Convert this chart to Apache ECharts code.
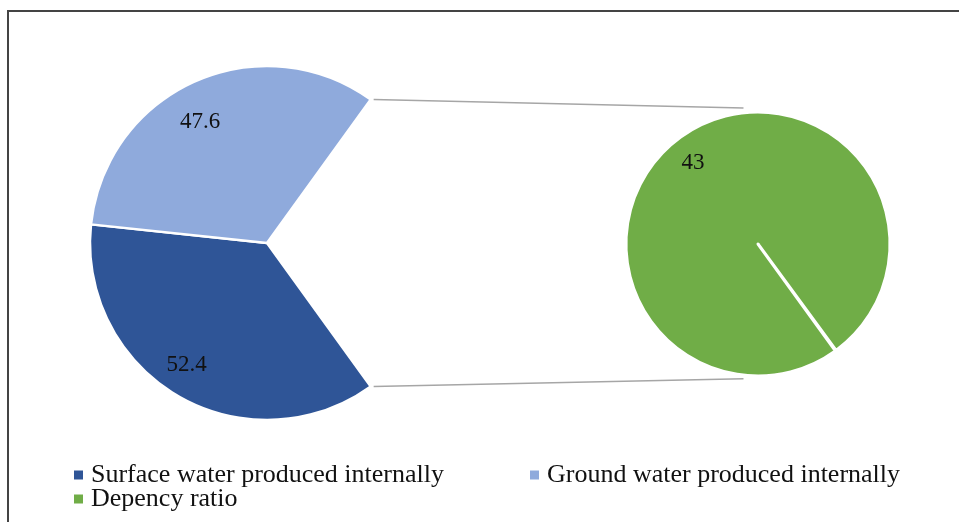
<!DOCTYPE html>
<html>
<head>
<meta charset="utf-8">
<script src="https://cdn.jsdelivr.net/npm/echarts@6/dist/echarts.min.js"></script>
<style>
  html, body { margin: 0; padding: 0; background: #ffffff; }
  #chart { width: 959px; height: 522px; }
</style>
</head>
<body>
<div id="chart"></div>
<script>
// ---- data ----
const mainCategories = ['Surface water produced internally', 'Ground water produced internally'];
const mainValues = [52.4, 47.6];
const secondaryCategory = 'Depency ratio';
const secondaryValue = 43;
const colors = ['#2F5597', '#8FAADC', '#70AD47'];

// ---- layout ----
const c1 = [267, 243], r1 = 177;
const c2 = [758, 244], r2 = 132;
const font = '"Liberation Serif", "Times New Roman", serif';
const mainLabelOffsets = [[-8, -3], [-8, 11]];
const secondaryLabelOffset = [-1, 7];

const total = mainValues[0] + mainValues[1] + secondaryValue;
const halfGap = secondaryValue / total * 180;   // half of the wedge sent to the second pie (deg)
const start1 = -halfGap;

const mainData = mainCategories.map((n, i) => ({
  name: n, value: mainValues[i],
  itemStyle: { color: colors[i] }
}));
mainData.push({
  name: secondaryCategory, value: secondaryValue,
  itemStyle: { color: 'transparent', borderWidth: 0 },
  label: { show: false }
});

const labelStyle = { show: true, position: 'inside', rotate: 0, formatter: '{c}',
  color: '#111', fontFamily: font, fontSize: 23 };

const allNames = mainCategories.concat([secondaryCategory]);
const option = {
  animation: false,
  backgroundColor: '#ffffff',
  legend: [
    { idx: 0, left: 74, top: 462 },
    { idx: 1, left: 530, top: 462 },
    { idx: 2, left: 74, top: 486 }
  ].map(l => ({
    data: [{ name: allNames[l.idx], itemStyle: { color: colors[l.idx], borderWidth: 0 } }],
    left: l.left, top: l.top, padding: 0,
    orient: 'horizontal', icon: 'rect', itemWidth: 9, itemHeight: 9,
    itemStyle: { borderWidth: 0 },
    textStyle: { fontFamily: font, fontSize: 26, color: '#111', padding: [0, 0, 0, 3] },
    selectedMode: false
  })),
  series: [
    {
      type: 'pie', center: c1, radius: [0, r1], startAngle: start1, clockwise: true,
      label: { show: false }, labelLine: { show: false }, silent: true,
      itemStyle: { borderColor: '#ffffff', borderWidth: 2.5 },
      data: mainData
    },
    {
      // label ring for the main pie
      type: 'pie', center: c1, radius: [r1 * 0.6, r1], startAngle: start1, clockwise: true,
      silent: true, labelLine: { show: false }, label: labelStyle,
      itemStyle: { color: 'transparent', borderWidth: 0 },
      data: mainData.map((d, i) => ({ name: d.name, value: d.value,
        itemStyle: { color: 'transparent' },
        label: i === 2 ? { show: false } : { offset: mainLabelOffsets[i] } }))
    },
    {
      type: 'pie', center: c2, radius: [0, r2], startAngle: start1, endAngle: start1 - 359.6,
      clockwise: true, silent: true, label: { show: false }, labelLine: { show: false },
      itemStyle: { borderColor: '#ffffff', borderWidth: 3 },
      data: [{ name: secondaryCategory, value: secondaryValue, itemStyle: { color: colors[2] } }]
    },
    {
      type: 'pie', center: c2, radius: [r2 * 0.6, r2], startAngle: start1, endAngle: start1 - 359.6,
      clockwise: true, silent: true, labelLine: { show: false },
      label: Object.assign({}, labelStyle, { offset: secondaryLabelOffset }),
      itemStyle: { color: 'transparent', borderWidth: 0 },
      data: [{ name: secondaryCategory, value: secondaryValue, itemStyle: { color: 'transparent' } }]
    }
  ],
  graphic: []
};

// connector lines from the gap edges of the main pie to the secondary pie
const a = halfGap * Math.PI / 180;
const ex = c1[0] + (r1 + 5) * Math.cos(a);
const ey = r1 * Math.sin(a);
option.graphic.push(
  { type: 'line', silent: true, shape: { x1: ex, y1: c1[1] - ey, x2: c2[0] - 0.11 * r2, y2: c2[1] - 1.03 * r2 },
    style: { stroke: '#a6a6a6', lineWidth: 1.5 } },
  { type: 'line', silent: true, shape: { x1: ex, y1: c1[1] + ey, x2: c2[0] - 0.11 * r2, y2: c2[1] + 1.02 * r2 },
    style: { stroke: '#a6a6a6', lineWidth: 1.5 } },
  { type: 'rect', silent: true, shape: { x: 8, y: 11, width: 1000, height: 600 },
    style: { fill: 'none', stroke: '#444', lineWidth: 2 } }
);

const chart = echarts.init(document.getElementById('chart'), null, { renderer: 'canvas' });
chart.setOption(option);
</script>
</body>
</html>
